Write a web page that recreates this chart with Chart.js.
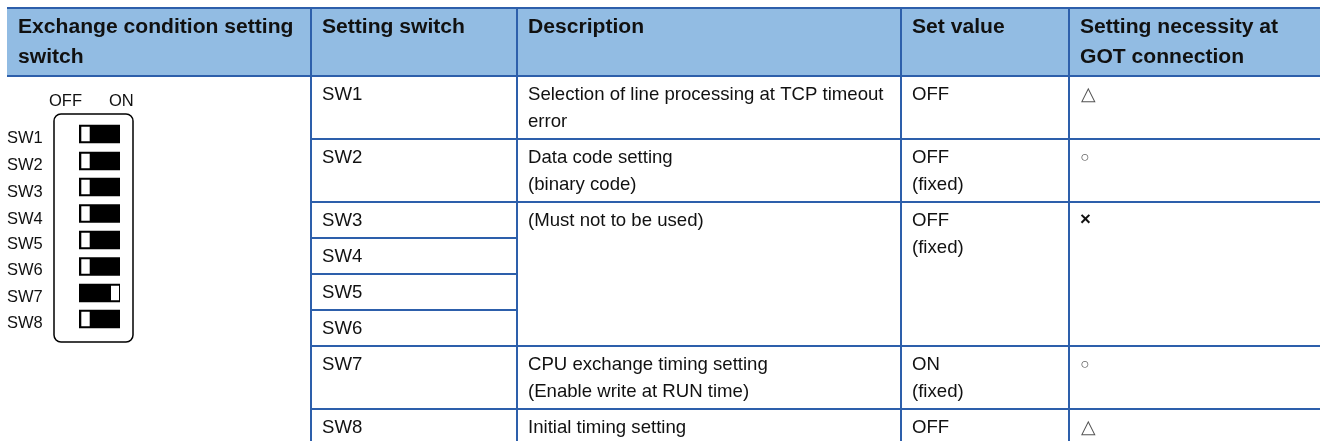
<!DOCTYPE html>
<html>
<head>
<meta charset="utf-8">
<style>
  html, body { margin: 0; padding: 0; background: #fff; }
  #wrap { width: 1320px; height: 441px; }
</style>
<script src="https://cdn.jsdelivr.net/npm/chart.js@4"></script>
</head>
<body>
<div id="wrap"><canvas id="tbl" width="1320" height="441"></canvas></div>
<script>
// table content
var headers = [
  ["Exchange condition setting", "switch"],
  ["Setting switch"],
  ["Description"],
  ["Set value"],
  ["Setting necessity at", "GOT connection"]
];
var switches = ["SW1", "SW2", "SW3", "SW4", "SW5", "SW6", "SW7", "SW8"];
var descriptions = [
  ["Selection of line processing at TCP timeout", "error"],
  ["Data code setting", "(binary code)"],
  ["(Must not to be used)"],
  [], [], [],
  ["CPU exchange timing setting", "(Enable write at RUN time)"],
  ["Initial timing setting"]
];
var setValues = [
  ["OFF"], ["OFF", "(fixed)"], ["OFF", "(fixed)"], [], [], [], ["ON", "(fixed)"], ["OFF"]
];
var necessity = ["△", "○", "×", "", "", "", "○", "△"];
var switchOn = [0, 0, 0, 0, 0, 0, 1, 0];

// grid, in picture pixels
var colEdges = [7, 311, 517, 901, 1069, 1320];
var rowEdges = [76, 139, 202, 238, 274, 310, 346, 409, 441];
var toggleRows = [134, 161, 187, 213.5, 240, 266.5, 293, 319];
var labelRows = [143, 170, 197, 224, 249, 275, 302, 328];

var blue = "#2d5fab";

function seg(x1, y1, x2, y2, color, width) {
  return {
    type: "line",
    data: [{x: x1, y: y1}, {x: x2, y: y2}],
    borderColor: color,
    borderWidth: width,
    borderCapStyle: "butt",
    pointRadius: 0,
    fill: false
  };
}

var datasets = [];

// header band
datasets.push({
  type: "line",
  data: [{x: colEdges[0], y: 76}, {x: 1320, y: 76}],
  borderColor: "#92bce3",
  borderWidth: 0,
  pointRadius: 0,
  fill: {value: 8},
  backgroundColor: "#92bce3"
});

// horizontal rules
datasets.push(seg(colEdges[0], 8, 1320, 8, blue, 2));
datasets.push(seg(colEdges[0], rowEdges[0], 1320, rowEdges[0], blue, 2));
rowEdges.slice(1, -1).forEach(function (y) {
  // the merged cells only rule off the first column
  if (y > 202 && y < 346) {
    datasets.push(seg(colEdges[1], y, colEdges[2], y, blue, 2));
  } else {
    datasets.push(seg(colEdges[1], y, 1320, y, blue, 2));
  }
});

// vertical rules
colEdges.slice(1, -1).forEach(function (x) {
  datasets.push(seg(x, 8, x, 441, blue, 2));
});

// dip switches
switches.forEach(function (s, i) {
  var y = toggleRows[i];
  datasets.push(seg(79, y, 120, y, "#000", 18.5));
  if (switchOn[i]) {
    datasets.push(seg(111, y, 119, y, "#fff", 14.5));
  } else {
    datasets.push(seg(81.3, y, 89.7, y, "#fff", 14.5));
  }
});

// chart.js paints the first dataset last
datasets.reverse();

var tablePlugin = {
  id: "tablePlugin",
  afterDatasetsDraw: function (chart) {
    var ctx = chart.ctx;
    var sx = chart.scales.x, sy = chart.scales.y;
    var px = function (v) { return sx.getPixelForValue(v); };
    var py = function (v) { return sy.getPixelForValue(v); };
    ctx.save();
    ctx.textBaseline = "alphabetic";
    ctx.textAlign = "left";

    // switch housing
    ctx.strokeStyle = "#000";
    ctx.lineWidth = 1.5;
    ctx.beginPath();
    ctx.roundRect(px(54), py(114), px(133) - px(54), py(342) - py(114), 7);
    ctx.stroke();

    ctx.fillStyle = "#111";
    ctx.font = "bold 21.1px 'Liberation Sans'";
    var headX = [18, 322, 528, 912, 1080];
    headers.forEach(function (lines, c) {
      lines.forEach(function (t, l) {
        ctx.fillText(t, px(headX[c]), py(33 + l * 29.5));
      });
    });

    var bodyFont = "18.6px 'Liberation Sans'";
    var rowBase = [100, 163, 226, 262, 298, 334, 370, 433];
    switches.forEach(function (s, i) {
      ctx.font = bodyFont;
      ctx.fillStyle = "#111";
      ctx.fillText(s, px(322), py(rowBase[i]));
      (descriptions[i] || []).forEach(function (t, l) {
        ctx.fillText(t, px(528), py(rowBase[i] + l * 26.5));
      });
      (setValues[i] || []).forEach(function (t, l) {
        ctx.fillText(t, px(912), py(rowBase[i] + l * 26.5));
      });
      // the symbols differ in weight and size in the picture
      var sym = necessity[i];
      if (sym === "×") {
        ctx.font = "bold 18.6px 'Liberation Sans'";
        ctx.fillText(sym, px(1080), py(rowBase[i] - 1));
      } else if (sym === "○") {
        ctx.font = "15.5px 'Liberation Sans'";
        ctx.fillStyle = "#555";
        ctx.fillText(sym, px(1080.2), py(rowBase[i] - 1));
      } else if (sym) {
        ctx.fillStyle = "#555";
        ctx.fillText(sym, px(1080.5), py(rowBase[i]));
      }
    });

    // labels beside the housing
    ctx.fillStyle = "#111";
    ctx.font = "16.5px 'Liberation Sans'";
    switches.forEach(function (s, i) {
      ctx.fillText(s, px(7), py(labelRows[i]));
    });
    ctx.fillText("OFF", px(49), py(106));
    ctx.fillText("ON", px(109), py(106));
    ctx.restore();
  }
};

new Chart("tbl", {
  data: {datasets: datasets},
  plugins: [tablePlugin],
  options: {
    responsive: false,
    animation: false,
    layout: {padding: 0},
    plugins: {legend: {display: false}, tooltip: {enabled: false}},
    scales: {
      x: {type: "linear", min: 0, max: 1320, display: false},
      y: {type: "linear", min: 0, max: 441, reverse: true, display: false}
    }
  }
});
</script>
</body>
</html>
